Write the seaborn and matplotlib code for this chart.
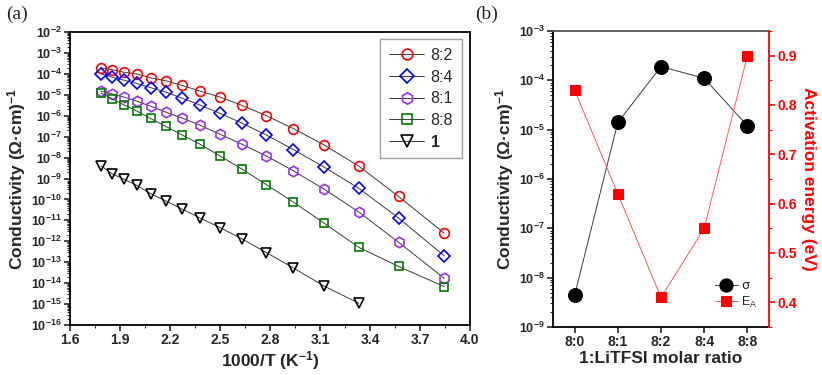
import numpy as np
import pandas as pd
import matplotlib
matplotlib.use("Agg")
import matplotlib.pyplot as plt
import matplotlib.ticker as mticker
import seaborn as sns

# ---------------- data ----------------
inv_T = [1.786, 1.852, 1.923, 2.000, 2.083, 2.174, 2.273, 2.381,
         2.500, 2.632, 2.778, 2.941, 3.125, 3.333, 3.571, 3.846]

sigma_82 = [1.9e-4, 1.6e-4, 1.2e-4, 1.0e-4, 6.4e-5, 4.7e-5, 2.8e-5, 1.5e-5,
            7.8e-6, 3.1e-6, 1.0e-6, 2.4e-7, 4.0e-8, 3.9e-9, 1.4e-10, 2.4e-12]
sigma_84 = [1.0e-4, 7.0e-5, 5.0e-5, 3.5e-5, 2.2e-5, 1.35e-5, 6.9e-6, 3.2e-6,
            1.3e-6, 4.4e-7, 1.2e-7, 2.4e-8, 3.5e-9, 3.4e-10, 1.3e-11, 2.0e-13]
sigma_81 = [1.5e-5, 1.1e-5, 7.8e-6, 5.0e-6, 2.9e-6, 1.5e-6, 7.7e-7, 3.5e-7,
            1.3e-7, 4.3e-8, 1.2e-8, 2.3e-9, 3.1e-10, 2.5e-11, 9.0e-13, 1.7e-14]
sigma_88 = [1.2e-5, 6.5e-6, 3.3e-6, 1.7e-6, 7.4e-7, 3.1e-7, 1.2e-7, 4.3e-8,
            1.2e-8, 2.8e-9, 5.1e-10, 7.4e-11, 7.3e-12, 5.1e-13, 6.3e-14, 6.8e-15]
sigma_1 = [4.0e-9, 1.7e-9, 9.3e-10, 4.7e-10, 1.9e-10, 8.5e-11, 3.4e-11, 1.3e-11,
           4.5e-12, 1.3e-12, 2.9e-13, 5.3e-14, 7.2e-15, 1.1e-15]

series_labels = ["8:2", "8:4", "8:1", "8:8", "1"]
xticks_a = ["1.6", "1.9", "2.2", "2.5", "2.8", "3.1", "3.4", "3.7", "4.0"]

ratios = ["8:0", "8:1", "8:2", "8:4", "8:8"]
sigma_rt = [4.4e-9, 1.4e-5, 1.9e-4, 1.1e-4, 1.2e-5]
ea = [0.83, 0.62, 0.41, 0.55, 0.90]

# ---------------- style ----------------
sns.set_theme(style="ticks")
plt.rcParams["font.family"] = ["Liberation Sans", "DejaVu Sans"]
plt.rcParams["mathtext.fontset"] = "custom"
plt.rcParams["mathtext.rm"] = "Liberation Sans:bold"
plt.rcParams["mathtext.it"] = "Liberation Sans:bold:italic"
plt.rcParams["mathtext.bf"] = "Liberation Sans:bold"
plt.rcParams["mathtext.sf"] = "Liberation Sans"
plt.rcParams["mathtext.default"] = "rm"
plt.rcParams["xtick.direction"] = "out"
plt.rcParams["ytick.direction"] = "out"

fig = plt.figure(figsize=(8.22, 3.75), dpi=100)
ax1 = fig.add_axes([70/822, 1-325/375, 400/822, 293/375])
ax2 = fig.add_axes([553/822, 1-327/375, 216/822, 296/375])

# ---------------- panel (a) ----------------
styles = [
    (sigma_82, "o", "#ff0000"),
    (sigma_84, "D", "#0000ff"),
    (sigma_81, "h", "#9b30ff"),
    (sigma_88, "s", "#007a00"),
    (sigma_1, "v", "#000000"),
]
msizes = {"o": 7, "D": 6.2, "h": 7.5, "s": 6, "v": 7.5}
for (vals, mk, col), lab in zip(styles, series_labels):
    df = pd.DataFrame({"x": inv_T[:len(vals)], "y": vals})
    sns.lineplot(data=df, x="x", y="y", ax=ax1, color="#3a3a3a", lw=0.7,
                 marker=mk, markersize=msizes[mk], markerfacecolor="none",
                 markeredgecolor=col, markeredgewidth=1.2, label=lab,
                 sort=False, legend=False)

ax1.set_yscale("log")
ax1.set_xlim(1.6, 4.0)
ax1.set_ylim(1e-16, 1e-2)
xt = [float(s) for s in xticks_a]
ax1.xaxis.set_major_locator(mticker.FixedLocator(xt))
ax1.xaxis.set_minor_locator(mticker.FixedLocator([(a + b) / 2 for a, b in zip(xt[:-1], xt[1:])]))
ax1.set_xticklabels(xticks_a)
ax1.yaxis.set_major_locator(mticker.LogLocator(base=10, numticks=30))
ax1.yaxis.set_minor_locator(mticker.LogLocator(base=10, subs=np.arange(2, 10), numticks=30))
ax1.yaxis.set_minor_formatter(mticker.NullFormatter())
ax1.yaxis.set_major_formatter(mticker.FuncFormatter(lambda v, p: r"$10^{%d}$" % round(np.log10(v))))
for lab in ax1.get_xticklabels() + ax1.get_yticklabels():
    lab.set_fontweight("bold")
ax1.tick_params(axis="both", which="major", labelsize=10, length=4, width=1.2, pad=2)
ax1.tick_params(axis="both", which="minor", length=2.5, width=0.8)
ax1.tick_params(axis="y", labelsize=9)
for sp in ax1.spines.values():
    sp.set_linewidth(1.3)
    sp.set_color("black")
ax1.set_xlabel("1000/T (K$^{-1}$)", fontsize=12.5, fontweight="bold", labelpad=1)
ax1.set_ylabel("Conductivity ($\\Omega$·cm)$^{-1}$", fontsize=12.5, fontweight="bold", labelpad=2)

handles, labels = ax1.get_legend_handles_labels()
leg = ax1.legend(handles, labels, loc="upper right", bbox_to_anchor=(0.98, 0.976),
                 borderaxespad=0.0, markerscale=1.1,
                 fontsize=11.5, frameon=True, fancybox=False, edgecolor="#888888",
                 handlelength=2.2, handletextpad=0.4, labelspacing=0.42,
                 borderpad=0.55)
leg.get_frame().set_linewidth(1.0)
for t in leg.get_texts():
    if t.get_text() == "1":
        t.set_fontweight("bold")

# ---------------- panel (b) ----------------
dfb = pd.DataFrame({"ratio": ratios, "sigma": sigma_rt, "ea": ea})
dfb["pos"] = np.arange(len(ratios))
sns.lineplot(data=dfb, x="pos", y="sigma", ax=ax2, color="#3a3a3a", lw=0.7,
             marker="o", markersize=10, markerfacecolor="black",
             markeredgecolor="black", label="σ", legend=False, sort=False)
ax2.set_yscale("log")
ax2.set_ylim(1e-9, 1e-3)
ax2.set_xlim(-0.5, 4.5)
ax2.set_xticks(dfb["pos"])
ax2.set_xticklabels(ratios)
ax2.yaxis.set_major_locator(mticker.LogLocator(base=10, numticks=20))
ax2.yaxis.set_minor_locator(mticker.LogLocator(base=10, subs=np.arange(2, 10), numticks=20))
ax2.yaxis.set_minor_formatter(mticker.NullFormatter())
ax2.yaxis.set_major_formatter(mticker.FuncFormatter(lambda v, p: r"$10^{%d}$" % round(np.log10(v))))
for lab in ax2.get_xticklabels() + ax2.get_yticklabels():
    lab.set_fontweight("bold")
ax2.tick_params(axis="both", which="major", labelsize=10, length=4, width=1.2, pad=2)
ax2.tick_params(axis="y", which="minor", length=2.5, width=0.8)
ax2.tick_params(axis="y", labelsize=9)
ax2.set_xlabel("1:LiTFSI molar ratio", fontsize=12.5, fontweight="bold", labelpad=1)
ax2.set_ylabel("Conductivity ($\\Omega$·cm)$^{-1}$", fontsize=12.5, fontweight="bold", labelpad=2)
for sp in ax2.spines.values():
    sp.set_linewidth(1.3)
    sp.set_color("black")
ax2.spines["top"].set_color("#555555")
ax2.spines["right"].set_visible(False)

ax3 = ax2.twinx()
sns.lineplot(data=dfb, x="pos", y="ea", ax=ax3, color="#ff5555", lw=0.7,
             marker="s", markersize=7, markerfacecolor="#ff0000",
             markeredgecolor="#ff0000", label="$\\mathsf{E_A}$", legend=False, sort=False)
ax3.set_xlabel("")
ax3.set_ylim(0.35, 0.95)
ax3.set_xlim(-0.5, 4.5)
ax3.yaxis.set_major_locator(mticker.MultipleLocator(0.1))
ax3.yaxis.set_minor_locator(mticker.MultipleLocator(0.05))
ax3.yaxis.set_major_formatter(mticker.FormatStrFormatter("%.1f"))
for sp in ["left", "top", "bottom"]:
    ax3.spines[sp].set_visible(False)
ax3.spines["right"].set_color("#ff0000")
ax3.spines["right"].set_linewidth(1.3)
ax3.tick_params(axis="y", which="major", colors="#ff0000", labelsize=10, length=4, width=1.2, pad=2)
ax3.tick_params(axis="y", which="minor", colors="#ff0000", length=2.5, width=0.8)
for lab in ax3.get_yticklabels():
    lab.set_fontweight("bold")
ax3.set_ylabel("Activation energy (eV)", fontsize=12.5, fontweight="bold",
               color="#ff0000", rotation=270, labelpad=14)

h1, l1 = ax2.get_legend_handles_labels()
h2, l2 = ax3.get_legend_handles_labels()
leg2 = ax3.legend(h1 + h2, l1 + l2, loc="lower right", bbox_to_anchor=(1.0, 0.02),
                  frameon=False, fontsize=9, handlelength=1.8, handletextpad=0.3,
                  labelspacing=0.2, markerscale=0.95)
leg2.get_texts()[0].set_family(["DejaVu Sans"])

# panel letters
fig.text(0.008, 0.985, "(a)", fontsize=14, family="Liberation Serif", va="top", ha="left")
fig.text(0.578, 0.985, "(b)", fontsize=14, family="Liberation Serif", va="top", ha="left")

fig.savefig("out.png", dpi=100)
